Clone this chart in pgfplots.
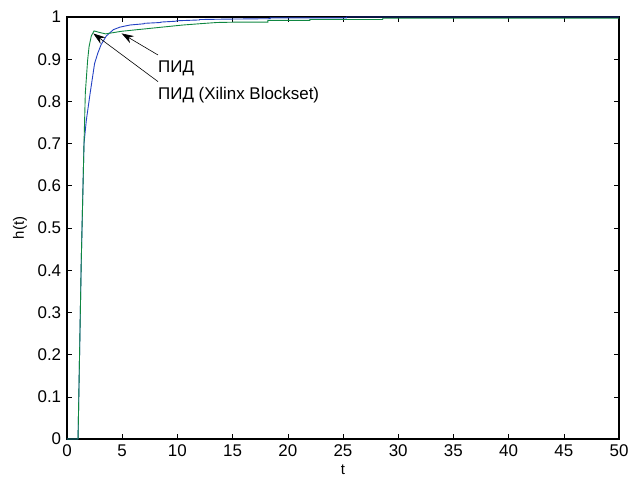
\documentclass[border=0pt]{standalone}
\usepackage{fontspec}
\setmainfont{Liberation Sans}
\usepackage{pgfplots}
\pgfplotsset{compat=1.18}
\usetikzlibrary{arrows.meta}
\definecolor{blueline}{RGB}{35,65,195}
\definecolor{greenline}{RGB}{15,135,65}
\begin{document}
\fontsize{17}{19}\selectfont
\begin{tikzpicture}
\begin{axis}[
  at={(0,0)}, anchor=south west,
  scale only axis, width=552bp, height=422bp,
  xmin=0, xmax=50, ymin=0, ymax=1,
  xtick={0,5,...,50},
  ytick={0,0.1,...,1},
  yticklabels={0,0.1,0.2,0.3,0.4,0.5,0.6,0.7,0.8,0.9,1},
  /pgf/number format/assume math mode=true,
  tick align=inside,
  major tick length=5bp,
  tick style={black, line width=0.6pt},
  axis line style={black, line width=1.1pt},
  ticklabel style={font=\fontsize{17}{19}\selectfont},
  xticklabel style={yshift=0bp},
  yticklabel style={xshift=0bp},
  xlabel={t}, ylabel={h(t)},
  label style={font=\fontsize{15}{17}\selectfont},
  xlabel style={at={(axis description cs:0.5,-0.0735)}, anchor=center},
  ylabel style={at={(axis description cs:-0.0851,0.5)}, anchor=center},
  clip=false,
]
\addplot[blueline, line width=0.9pt] coordinates {
(0,0) (1,0) (1.29,0.42) (1.54,0.70) (1.75,0.755) (2.1,0.82) (2.5,0.89)
(2.8,0.915) (3.1,0.935) (3.56,0.955) (4.2,0.97) (4.8,0.976) (5.7,0.981)
(7,0.984) (7,0.985) (8.5,0.987) (8.5,0.988) (9.9,0.990) (9.9,0.991)
(12,0.993) (12,0.994) (14.5,0.995) (18.4,0.996) (18.4,0.998) (25.3,0.998)
(25.3,1.0) (50,1.0)};
\addplot[greenline, line width=0.9pt] coordinates {
(0,0) (1,0) (1.29,0.42) (1.54,0.70) (1.66,0.82) (1.87,0.898) (2.0,0.93)
(2.2,0.955) (2.45,0.967) (3.0,0.963) (3.5,0.960) (4.2,0.963) (4.9,0.966)
(6,0.969) (7.5,0.973) (9,0.977) (10.5,0.981) (12,0.984) (13.6,0.987)
(15.7,0.988) (18.2,0.988) (18.2,0.992) (22,0.992) (22,0.994) (28.6,0.994)
(28.6,0.997) (50,0.997)};
\draw[black, line width=0.6pt, -{Stealth[length=12bp,width=8bp]}]
  (axis cs:8.24,0.910) -- (axis cs:4.95,0.961);
\draw[black, line width=0.6pt, -{Stealth[length=12bp,width=8bp]}]
  (axis cs:8.24,0.847) -- (axis cs:2.38,0.961);
\node[anchor=west, inner sep=0pt, font=\fontsize{17}{19}\selectfont] at (axis cs:8.24,0.878) {ПИД};
\node[anchor=west, inner sep=0pt, font=\fontsize{17}{19}\selectfont] at (axis cs:8.24,0.815) {ПИД (Xilinx Blockset)};
\end{axis}
\pgfresetboundingbox
\useasboundingbox (-67bp,-39bp) rectangle (562bp,439bp);
\end{tikzpicture}
\end{document}
